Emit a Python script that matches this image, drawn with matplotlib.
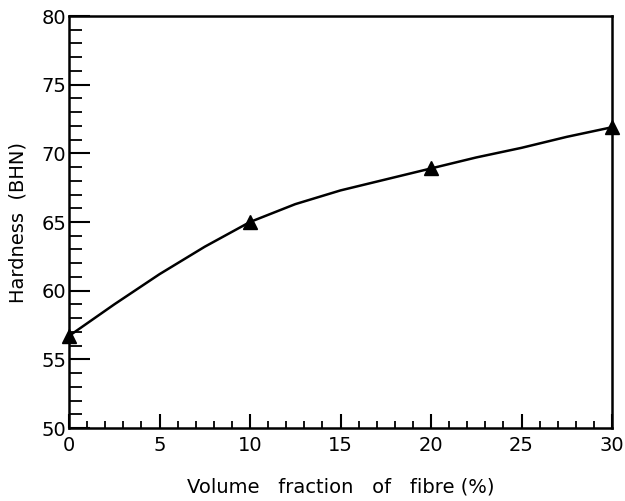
import matplotlib
matplotlib.use("Agg")
import matplotlib.pyplot as plt
from matplotlib.ticker import MultipleLocator

plt.rcParams["font.family"] = ["DejaVu Sans"]

# measured points (markers)
fraction = [0, 10, 20, 30]
hardness = [56.7, 65.0, 68.9, 71.9]

# smooth curve drawn through the points
curve_x = [0, 2.5, 5, 7.5, 10, 12.5, 15, 17.5, 20, 22.5, 25, 27.5, 30]
curve_y = [56.7, 59.0, 61.2, 63.2, 65.0, 66.3, 67.3, 68.1, 68.9, 69.7, 70.4, 71.2, 71.9]

fig = plt.figure(figsize=(6.25, 5.01), dpi=100)
ax = fig.add_axes([69 / 625, 1 - 428 / 501, (612 - 69) / 625, (428 - 16) / 501])

ax.plot(curve_x, curve_y, color="black", lw=1.8, zorder=3)
ax.plot(fraction, hardness, linestyle="none", marker="^", ms=10,
        color="black", clip_on=False, zorder=4)

ax.set_xlim(0, 30)
ax.set_ylim(50, 80)
ax.xaxis.set_major_locator(MultipleLocator(5))
ax.xaxis.set_minor_locator(MultipleLocator(1))
ax.yaxis.set_major_locator(MultipleLocator(5))
ax.yaxis.set_minor_locator(MultipleLocator(1))

for s in ax.spines.values():
    s.set_linewidth(1.8)

ax.tick_params(axis="y", which="major", direction="in", length=15, width=1.5,
               labelsize=14, pad=2)
ax.tick_params(axis="y", which="minor", direction="in", length=9, width=1.3)
ax.tick_params(axis="x", which="major", direction="in", length=10, width=1.5,
               labelsize=14, pad=6)
ax.tick_params(axis="x", which="minor", direction="in", length=5, width=1.3)

ax.set_xlabel("Volume   fraction   of   fibre (%)", fontsize=14, labelpad=16)
ax.set_ylabel("Hardness  (BHN)", fontsize=14, labelpad=10)

fig.savefig("out.png", dpi=100)
